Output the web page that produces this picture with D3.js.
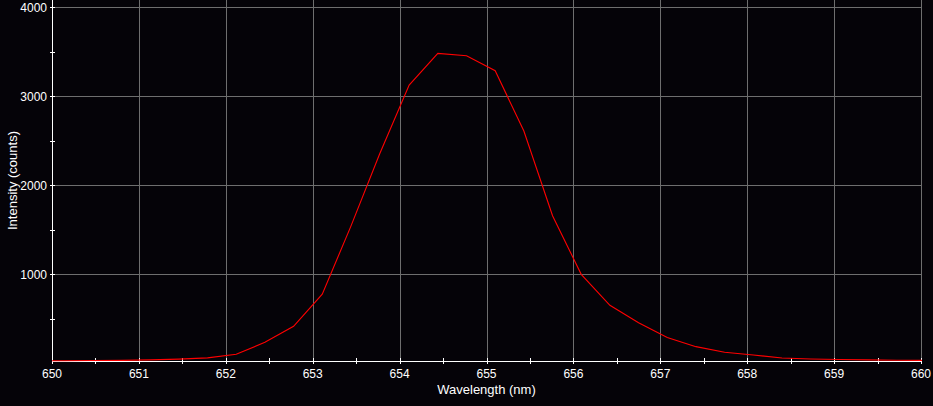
<!DOCTYPE html>
<html>
<head>
<meta charset="utf-8">
<script src="https://cdn.jsdelivr.net/npm/d3@7"></script>
<style>
  body { margin: 0; background: #050308; }
  svg { display: block; }
</style>
</head>
<body>
<svg width="933" height="406"></svg>
<script>
// spectrum samples
const wavelengths = [649.81, 650.14, 650.47, 650.80, 651.13, 651.46, 651.79, 652.12, 652.45, 652.78,
  653.11, 653.44, 653.77, 654.11, 654.44, 654.77, 655.10, 655.43, 655.76, 656.09,
  656.42, 656.75, 657.08, 657.41, 657.74, 658.07, 658.40, 658.73, 659.06, 659.39, 659.72, 660.05];
const counts = [28, 28, 30, 32, 38, 46, 60, 100, 235, 415,
  775, 1540, 2350, 3124, 3480, 3453, 3285, 2607, 1656, 998,
  650, 455, 290, 186, 123, 92, 59, 48, 42, 38, 33, 32];
const xMajorTicks = [650, 651, 652, 653, 654, 655, 656, 657, 658, 659, 660];
const yMajorTicks = [1000, 2000, 3000, 4000];
const yMinorTicks = [500, 1500, 2500, 3500];

let svg = d3.select("svg");
let plotLeft = 52, plotRight = 921, plotTop = 0, plotBottom = 361;

let x = d3.scaleLinear().domain([650, 660]).range([plotLeft, plotRight]);
let y = d3.scaleLinear().domain([25, 4079]).range([plotBottom, plotTop]);

let xMinorTicks = d3.range(650.5, 660, 1);

// grid
let grid = svg.append("g").attr("stroke", "#6e6e6e").attr("stroke-width", 1);
grid.selectAll("line.v")
  .data(xMajorTicks.slice(1))
  .enter()
  .append("line")
  .attr("x1", (d) => Math.round(x(d)) + 0.5)
  .attr("x2", (d) => Math.round(x(d)) + 0.5)
  .attr("y1", plotTop)
  .attr("y2", plotBottom);
grid.selectAll("line.h")
  .data(yMajorTicks)
  .enter()
  .append("line")
  .attr("x1", plotLeft)
  .attr("x2", plotRight)
  .attr("y1", (d) => Math.round(y(d)) + 0.5)
  .attr("y2", (d) => Math.round(y(d)) + 0.5);

// axes
let axes = svg.append("g").attr("stroke", "#ffffff").attr("stroke-width", 1);
axes.append("line")
  .attr("x1", plotLeft + 0.5).attr("x2", plotLeft + 0.5)
  .attr("y1", plotTop).attr("y2", plotBottom + 1);
axes.append("line")
  .attr("x1", plotLeft).attr("x2", plotRight + 1)
  .attr("y1", plotBottom + 0.5).attr("y2", plotBottom + 0.5);

axes.selectAll("line.xt")
  .data(xMajorTicks.concat(xMinorTicks))
  .enter()
  .append("line")
  .attr("x1", (d) => Math.round(x(d)) + 0.5)
  .attr("x2", (d) => Math.round(x(d)) + 0.5)
  .attr("y1", plotBottom - 3)
  .attr("y2", plotBottom + 3);
axes.selectAll("line.yt")
  .data(yMajorTicks.concat(yMinorTicks))
  .enter()
  .append("line")
  .attr("x1", plotLeft - 2)
  .attr("x2", plotLeft + 3)
  .attr("y1", (d) => Math.round(y(d)) + 0.5)
  .attr("y2", (d) => Math.round(y(d)) + 0.5);

let labels = svg.append("g")
  .attr("fill", "#ffffff")
  .style("font-family", "'Liberation Sans', Arial, sans-serif")
  .style("font-size", "12px");

labels.selectAll("text.x")
  .data(xMajorTicks)
  .enter()
  .append("text")
  .attr("x", (d) => x(d))
  .attr("y", plotBottom + 17)
  .attr("text-anchor", "middle")
  .text((d) => d);

labels.selectAll("text.y")
  .data(yMajorTicks)
  .enter()
  .append("text")
  .attr("x", plotLeft - 5)
  .attr("y", (d) => y(d) + 4.5)
  .attr("text-anchor", "end")
  .text((d) => d);

labels.append("text")
  .attr("x", (plotLeft + plotRight) / 2)
  .attr("y", plotBottom + 33)
  .attr("text-anchor", "middle")
  .style("font-size", "13px")
  .text("Wavelength (nm)");

labels.append("text")
  .attr("transform", "translate(17," + (plotTop + plotBottom) / 2 + ") rotate(-90)")
  .attr("text-anchor", "middle")
  .style("font-size", "13px")
  .text("Intensity (counts)");

// spectrum line
svg.append("clipPath")
  .attr("id", "plot")
  .append("rect")
  .attr("x", plotLeft)
  .attr("y", plotTop)
  .attr("width", plotRight - plotLeft + 1)
  .attr("height", plotBottom - plotTop + 1);

let line = d3.line()
  .x((d, i) => x(wavelengths[i]))
  .y((d) => y(d));

svg.append("path")
  .datum(counts)
  .attr("clip-path", "url(#plot)")
  .attr("fill", "none")
  .attr("stroke", "#ff0000")
  .attr("stroke-width", 1.1)
  .attr("d", line);
</script>
</body>
</html>
